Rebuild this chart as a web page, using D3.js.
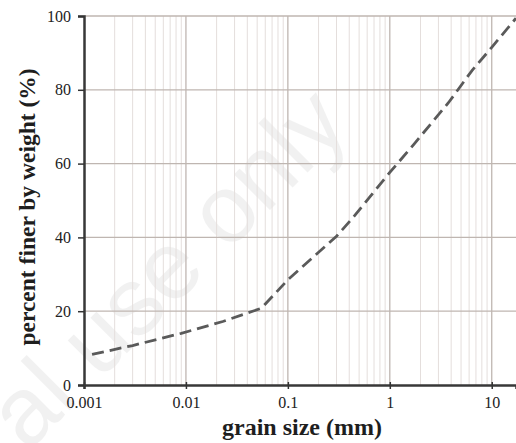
<!DOCTYPE html>
<html>
<head>
<meta charset="utf-8">
<script src="https://cdn.jsdelivr.net/npm/d3@7"></script>
<style>
  body { margin: 0; background: #fff; }
  svg { display: block; }
</style>
</head>
<body>
<div id="chart"></div>
<script>
// grain size distribution
const grainSize = [0.0012, 0.003, 0.009, 0.023, 0.055, 0.1, 0.3, 0.43, 1, 1.73, 3.76, 6.4, 10, 17.3];
const percentFiner = [8.3, 10.7, 14.0, 17.2, 20.8, 28.5, 40.3, 45.2, 57.6, 65.3, 76.5, 85.2, 91.5, 99.4];
const xTicks = [0.001, 0.01, 0.1, 1, 10];
const xTickLabels = ["0.001", "0.01", "0.1", "1", "10"];
const yTicks = [0, 20, 40, 60, 80, 100];

const serif = "'Liberation Serif', 'Times New Roman', serif";
const W = 516, H = 443;
const margin = { top: 16, right: 0, bottom: 58, left: 84 };
const width = W - margin.left - margin.right;
const height = H - margin.top - margin.bottom;

const svg = d3.select("#chart").append("svg")
    .attr("width", W)
    .attr("height", H);

// faint watermark
svg.append("text")
    .attr("transform", "translate(352,128) rotate(-45)")
    .attr("text-anchor", "end")
    .attr("font-family", "'Liberation Sans', Arial, sans-serif")
    .attr("font-size", 96)
    .attr("fill", "#000")
    .attr("opacity", 0.05)
    .text("al use only");

const g = svg.append("g").attr("transform", `translate(${margin.left},${margin.top})`);

const x = d3.scaleLog().domain([0.001, 17.3]).range([0, width]);
const y = d3.scaleLinear().domain([0, 100]).range([height, 0]);

// minor vertical grid
const minor = [];
xTicks.forEach(d => {
    for (let k = 2; k <= 9; k++) if (d * k <= 17.3) minor.push(d * k);
});
g.append("g").selectAll("line").data(minor).join("line")
    .attr("x1", d => x(d)).attr("x2", d => x(d))
    .attr("y1", 0).attr("y2", height)
    .attr("stroke", "#e4dedc").attr("stroke-width", 1);

// major grid
g.append("g").selectAll("line").data(xTicks.slice(1)).join("line")
    .attr("x1", d => x(d)).attr("x2", d => x(d))
    .attr("y1", 0).attr("y2", height)
    .attr("stroke", "#bfb6b1").attr("stroke-width", 1.3);
g.append("g").selectAll("line").data(yTicks.slice(1)).join("line")
    .attr("x1", 0).attr("x2", width)
    .attr("y1", d => y(d)).attr("y2", d => y(d))
    .attr("stroke", "#bfb6b1").attr("stroke-width", 1.3);

// curve
const pts = grainSize.map((d, i) => [d, percentFiner[i]]);
g.append("path")
    .datum(pts)
    .attr("fill", "none")
    .attr("stroke", "#5a5a5a")
    .attr("stroke-width", 2.8)
    .attr("stroke-dasharray", "12,6")
    .attr("d", d3.line().x(d => x(d[0])).y(d => y(d[1])));

// axes
const xAxis = g.append("g")
    .attr("transform", `translate(0,${height})`)
    .call(d3.axisBottom(x).tickValues(xTicks).tickFormat((d, i) => xTickLabels[i]).tickSize(4).tickPadding(8));
xAxis.selectAll(".tick line").attr("y1", -3).attr("stroke", "#333").attr("stroke-width", 1.5);

const yAxis = g.append("g")
    .call(d3.axisLeft(y).tickValues(yTicks).tickSize(6).tickPadding(7));
yAxis.selectAll(".tick line").attr("stroke", "#333").attr("stroke-width", 1.5);

[xAxis, yAxis].forEach(a => {
    a.select(".domain").attr("stroke", "#383838").attr("stroke-width", 2.5);
    a.selectAll("text")
        .attr("font-family", serif)
        .attr("font-size", 16)
        .attr("fill", "#222");
});

// axis titles
svg.append("text")
    .attr("x", 302).attr("y", 435)
    .attr("text-anchor", "middle")
    .attr("font-family", serif)
    .attr("font-weight", "bold")
    .attr("font-size", 24)
    .attr("fill", "#1e1e1e")
    .text("grain size (mm)");

svg.append("text")
    .attr("transform", "translate(35,207) rotate(-90)")
    .attr("text-anchor", "middle")
    .attr("font-family", serif)
    .attr("font-weight", "bold")
    .attr("font-size", 23.5)
    .attr("fill", "#1e1e1e")
    .text("percent finer by weight (%)");
</script>
</body>
</html>
